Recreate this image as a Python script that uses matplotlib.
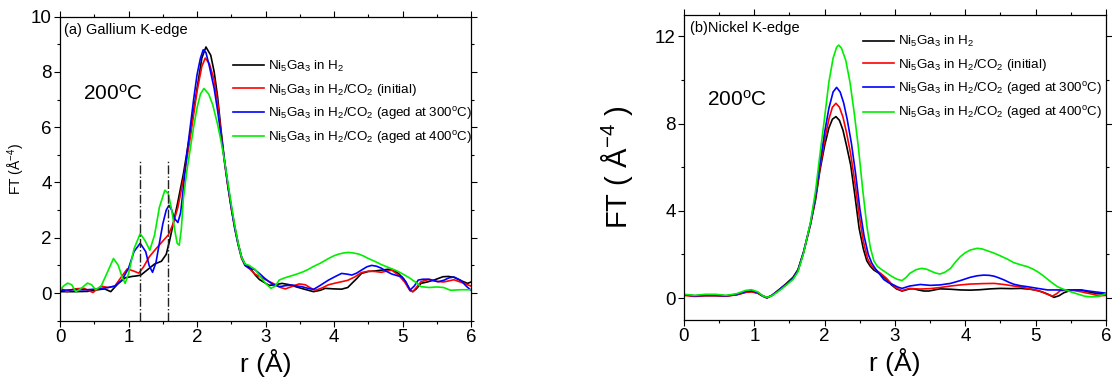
import matplotlib
matplotlib.use("Agg")
import matplotlib.pyplot as plt
import numpy as np

plt.rcParams['font.family'] = ['Liberation Sans', 'DejaVu Sans']
plt.rcParams['mathtext.default'] = 'regular'

# ---------------- data: (r [Å], FT) pairs ----------------
labels = [r'Ni$_5$Ga$_3$ in H$_2$',
          r'Ni$_5$Ga$_3$ in H$_2$/CO$_2$ (initial)',
          r'Ni$_5$Ga$_3$ in H$_2$/CO$_2$ (aged at 300$^o$C)',
          r'Ni$_5$Ga$_3$ in H$_2$/CO$_2$ (aged at 400$^o$C)']
colors = ['#000000', '#ff0000', '#0000ff', '#00ee00']

ga_black = [(0,0.05),(0.2,0.05),(0.4,0.06),(0.55,0.12),(0.65,0.15),(0.74,0.05),(0.85,0.35),(0.95,0.55),
            (1.05,0.6),(1.12,0.62),(1.18,0.65),(1.28,0.85),(1.38,1.05),(1.48,1.15),(1.55,1.4),(1.6,1.9),
            (1.66,2.6),(1.72,3.3),(1.8,4.3),(1.9,5.8),(2.0,7.4),(2.07,8.5),(2.13,8.9),(2.2,8.6),(2.25,8.0),
            (2.3,7.1),(2.35,5.9),(2.4,4.8),(2.45,3.9),(2.5,3.1),(2.55,2.4),(2.6,1.8),(2.65,1.3),(2.7,1.05),
            (2.76,0.95),(2.85,0.65),(2.91,0.49),(3.05,0.28),(3.15,0.3),(3.24,0.35),(3.35,0.3),(3.44,0.23),
            (3.55,0.15),(3.7,0.05),(3.8,0.1),(3.87,0.17),(4.0,0.15),(4.11,0.14),(4.2,0.2),(4.26,0.35),
            (4.33,0.52),(4.4,0.71),(4.5,0.78),(4.6,0.8),(4.7,0.83),(4.79,0.86),(4.87,0.82),(4.94,0.71),
            (5.02,0.5),(5.11,0.1),(5.15,0.05),(5.2,0.15),(5.27,0.35),(5.36,0.4),(5.46,0.47),(5.59,0.59),
            (5.67,0.6),(5.75,0.57),(5.85,0.45),(5.95,0.35),(6.0,0.4)]
ga_red = [(0,0.18),(0.1,0.05),(0.2,0.15),(0.35,0.17),(0.48,0.02),(0.6,0.25),(0.7,0.2),(0.8,0.25),(0.9,0.6),
          (0.98,0.87),(1.07,0.8),(1.15,0.72),(1.22,0.95),(1.3,1.3),(1.4,1.6),(1.5,1.88),(1.58,2.1),(1.65,2.5),
          (1.72,3.1),(1.8,4.1),(1.9,5.6),(2.0,7.3),(2.07,8.2),(2.12,8.5),(2.18,8.3),(2.25,7.7),(2.3,6.9),
          (2.35,5.8),(2.4,4.75),(2.45,3.85),(2.5,3.05),(2.55,2.35),(2.6,1.75),(2.65,1.25),(2.7,1.0),
          (2.76,0.89),(2.85,0.68),(2.95,0.55),(3.05,0.42),(3.15,0.3),(3.22,0.2),(3.29,0.15),(3.4,0.25),
          (3.49,0.33),(3.58,0.3),(3.66,0.18),(3.73,0.1),(3.82,0.18),(3.92,0.3),(4.02,0.36),(4.11,0.41),
          (4.2,0.46),(4.3,0.58),(4.4,0.74),(4.5,0.79),(4.6,0.78),(4.69,0.75),(4.78,0.8),(4.84,0.83),
          (4.94,0.65),(5.03,0.4),(5.11,0.08),(5.15,0.05),(5.2,0.2),(5.27,0.41),(5.39,0.5),(5.5,0.42),
          (5.6,0.4),(5.75,0.48),(5.9,0.35),(6.0,0.25)]
ga_blue = [(0,0.1),(0.2,0.12),(0.4,0.12),(0.55,0.15),(0.7,0.2),(0.8,0.25),(0.9,0.45),(1.0,0.9),(1.08,1.5),
           (1.17,1.8),(1.25,1.5),(1.3,1.0),(1.35,0.75),(1.4,1.1),(1.45,1.8),(1.5,2.5),(1.55,3.0),(1.59,3.17),
           (1.63,3.0),(1.67,2.7),(1.72,2.55),(1.76,2.9),(1.8,3.8),(1.85,5.0),(1.9,6.0),(1.95,7.0),(2.0,7.9),
           (2.05,8.5),(2.09,8.8),(2.13,8.7),(2.18,8.2),(2.25,7.4),(2.3,6.6),(2.35,5.7),(2.4,4.8),(2.45,3.9),
           (2.5,3.1),(2.55,2.35),(2.6,1.75),(2.65,1.3),(2.7,1.0),(2.76,0.9),(2.84,0.85),(2.91,0.71),
           (2.98,0.55),(3.05,0.41),(3.12,0.3),(3.2,0.23),(3.3,0.27),(3.39,0.29),(3.47,0.25),(3.53,0.23),
           (3.62,0.17),(3.7,0.13),(3.8,0.28),(3.92,0.47),(4.02,0.6),(4.11,0.71),(4.2,0.68),(4.26,0.65),
           (4.33,0.72),(4.4,0.83),(4.48,0.95),(4.55,1.0),(4.62,0.97),(4.69,0.9),(4.77,0.78),(4.84,0.69),
           (4.92,0.63),(4.99,0.59),(5.05,0.4),(5.11,0.11),(5.17,0.25),(5.23,0.47),(5.3,0.5),(5.37,0.5),
           (5.45,0.45),(5.52,0.41),(5.6,0.46),(5.68,0.55),(5.75,0.58),(5.85,0.46),(5.93,0.25),(6.0,0.1)]
ga_green = [(0,0.1),(0.05,0.25),(0.11,0.36),(0.17,0.3),(0.23,0.05),(0.3,0.15),(0.4,0.36),(0.46,0.3),
            (0.52,0.12),(0.6,0.25),(0.7,0.8),(0.78,1.25),(0.85,1.0),(0.91,0.55),(0.95,0.35),(1.0,0.7),
            (1.08,1.6),(1.17,2.15),(1.24,1.9),(1.31,1.55),(1.38,2.1),(1.45,3.1),(1.53,3.72),(1.58,3.6),
            (1.63,3.0),(1.68,2.2),(1.71,1.8),(1.74,1.73),(1.77,2.3),(1.8,3.4),(1.85,4.4),(1.9,5.2),
            (1.95,6.0),(2.0,6.7),(2.05,7.2),(2.1,7.4),(2.17,7.2),(2.23,6.8),(2.3,6.1),(2.35,5.5),(2.4,4.8),
            (2.45,4.0),(2.5,3.2),(2.55,2.45),(2.6,1.8),(2.65,1.3),(2.7,1.05),(2.76,1.0),(2.85,0.85),
            (2.92,0.6),(3.0,0.35),(3.08,0.17),(3.14,0.25),(3.2,0.47),(3.28,0.55),(3.36,0.61),(3.45,0.68),
            (3.55,0.77),(3.62,0.85),(3.69,0.95),(3.8,1.08),(3.92,1.25),(4.0,1.35),(4.07,1.41),(4.14,1.45),
            (4.21,1.47),(4.28,1.45),(4.36,1.41),(4.43,1.34),(4.5,1.25),(4.6,1.14),(4.69,1.03),(4.79,0.93),
            (4.89,0.83),(4.96,0.75),(5.03,0.65),(5.1,0.55),(5.18,0.41),(5.27,0.23),(5.39,0.2),(5.5,0.22),
            (5.6,0.2),(5.7,0.1),(5.85,0.12),(6.0,0.12)]

ni_black = [(0,0.15),(0.15,0.1),(0.3,0.12),(0.45,0.12),(0.6,0.1),(0.75,0.15),(0.88,0.27),(0.96,0.3),
            (1.05,0.22),(1.12,0.08),(1.18,0.0),(1.25,0.12),(1.35,0.38),(1.45,0.65),(1.55,0.95),(1.62,1.3),
            (1.7,2.1),(1.8,3.4),(1.87,4.5),(1.93,5.8),(2.0,7.0),(2.06,7.8),(2.11,8.2),(2.16,8.32),(2.21,8.15),
            (2.26,7.7),(2.31,7.0),(2.37,6.1),(2.43,4.7),(2.49,3.2),(2.55,2.25),(2.6,1.7),(2.65,1.45),
            (2.7,1.28),(2.79,1.1),(2.88,0.85),(2.95,0.6),(3.02,0.42),(3.1,0.32),(3.21,0.42),(3.27,0.42),
            (3.33,0.37),(3.41,0.32),(3.48,0.32),(3.56,0.37),(3.64,0.42),(3.8,0.4),(3.93,0.37),(4.07,0.36),
            (4.21,0.38),(4.36,0.42),(4.5,0.44),(4.65,0.43),(4.79,0.44),(4.93,0.4),(5.03,0.34),(5.1,0.27),
            (5.17,0.18),(5.26,0.03),(5.33,0.1),(5.4,0.24),(5.47,0.32),(5.54,0.37),(5.64,0.37),(5.75,0.28),
            (5.88,0.2),(6.0,0.18)]
ni_red = [(0,0.12),(0.15,0.07),(0.3,0.1),(0.45,0.1),(0.6,0.08),(0.75,0.15),(0.88,0.26),(0.96,0.28),
          (1.05,0.22),(1.12,0.1),(1.18,0.02),(1.25,0.12),(1.35,0.36),(1.45,0.62),(1.55,0.9),(1.62,1.25),
          (1.7,2.1),(1.8,3.4),(1.87,4.6),(1.93,5.9),(2.0,7.25),(2.06,8.2),(2.11,8.75),(2.16,8.93),(2.21,8.75),
          (2.26,8.3),(2.31,7.6),(2.37,6.6),(2.43,5.3),(2.49,3.8),(2.55,2.6),(2.61,1.8),(2.66,1.5),(2.72,1.3),
          (2.8,1.12),(2.88,0.9),(2.95,0.65),(3.02,0.45),(3.1,0.34),(3.21,0.44),(3.3,0.42),(3.36,0.41),
          (3.5,0.43),(3.64,0.48),(3.79,0.55),(3.93,0.6),(4.07,0.64),(4.25,0.66),(4.41,0.67),(4.55,0.62),
          (4.69,0.55),(4.8,0.5),(4.88,0.44),(5.0,0.36),(5.08,0.29),(5.16,0.18),(5.24,0.09),(5.3,0.2),
          (5.35,0.34),(5.49,0.37),(5.64,0.29),(5.8,0.18),(5.9,0.1),(6.0,0.12)]
ni_blue = [(0,0.15),(0.15,0.1),(0.3,0.12),(0.45,0.12),(0.6,0.1),(0.75,0.17),(0.88,0.3),(0.96,0.33),
           (1.05,0.25),(1.12,0.1),(1.18,0.02),(1.25,0.12),(1.35,0.36),(1.45,0.62),(1.55,0.9),(1.62,1.25),
           (1.7,2.1),(1.8,3.45),(1.87,4.7),(1.93,6.1),(2.0,7.6),(2.06,8.7),(2.12,9.45),(2.17,9.66),(2.22,9.45),
           (2.27,8.95),(2.32,8.2),(2.38,7.1),(2.44,5.7),(2.5,4.1),(2.56,2.85),(2.62,2.0),(2.67,1.6),
           (2.72,1.35),(2.78,1.1),(2.84,0.85),(2.91,0.7),(2.98,0.6),(3.04,0.5),(3.1,0.44),(3.21,0.55),
           (3.36,0.62),(3.5,0.58),(3.64,0.6),(3.79,0.67),(3.93,0.8),(4.07,0.95),(4.17,1.02),(4.26,1.05),
           (4.34,1.04),(4.41,1.0),(4.48,0.92),(4.55,0.83),(4.62,0.72),(4.69,0.63),(4.79,0.56),(4.88,0.52),
           (5.03,0.44),(5.17,0.37),(5.35,0.37),(5.5,0.37),(5.64,0.37),(5.8,0.3),(6.0,0.22)]
ni_green = [(0,0.17),(0.15,0.12),(0.3,0.17),(0.45,0.17),(0.6,0.12),(0.75,0.2),(0.88,0.35),(0.96,0.38),
            (1.05,0.28),(1.12,0.1),(1.18,0.03),(1.25,0.1),(1.35,0.32),(1.45,0.58),(1.55,0.85),(1.62,1.2),
            (1.7,2.05),(1.8,3.5),(1.87,4.9),(1.93,6.5),(2.0,8.3),(2.06,9.9),(2.12,11.0),(2.17,11.5),(2.2,11.6),
            (2.24,11.45),(2.3,10.9),(2.36,9.9),(2.42,8.5),(2.48,6.9),(2.54,5.0),(2.6,3.3),(2.65,2.3),
            (2.7,1.7),(2.75,1.45),(2.79,1.35),(2.88,1.15),(2.95,1.0),(3.03,0.86),(3.1,0.8),(3.16,0.95),
            (3.21,1.13),(3.3,1.3),(3.38,1.36),(3.45,1.32),(3.5,1.25),(3.57,1.15),(3.64,1.1),(3.71,1.18),
            (3.79,1.36),(3.86,1.65),(3.93,1.9),(4.0,2.08),(4.07,2.2),(4.17,2.28),(4.24,2.25),(4.31,2.17),
            (4.4,2.07),(4.5,1.93),(4.6,1.78),(4.69,1.62),(4.79,1.52),(4.88,1.44),(4.96,1.33),(5.03,1.2),
            (5.1,1.04),(5.17,0.86),(5.24,0.68),(5.31,0.52),(5.38,0.42),(5.45,0.34),(5.52,0.26),(5.6,0.18),
            (5.7,0.08),(5.8,0.05),(5.9,0.08),(6.0,0.2)]

ga_marker_r = [1.17, 1.57]   # dash-dot guide lines
ga_marker_top = 4.8

# ---------------- figure ----------------
fig = plt.figure(figsize=(11.12, 3.83), dpi=100)
axL = fig.add_axes([0.054, 0.1627, 0.3696, 0.794])
axR = fig.add_axes([0.6151, 0.165, 0.3795, 0.797])

def style(ax, ymaj, ymin):
    ax.set_xlim(0, 6)
    ax.set_xticks(range(0, 7))
    ax.set_xticks(np.arange(0.5, 6, 1.0), minor=True)
    ax.set_yticks(ymaj)
    ax.set_yticks(ymin, minor=True)
    ax.tick_params(which='both', direction='out', top=True, right=True,
                   labeltop=False, labelright=False, labelsize=13.5, width=0.8, pad=2)
    ax.tick_params(which='major', length=4)
    ax.tick_params(which='minor', length=2.5)
    for s in ax.spines.values():
        s.set_linewidth(0.9)

for ax, series in ((axL, [ga_black, ga_red, ga_blue, ga_green]),
                   (axR, [ni_black, ni_red, ni_blue, ni_green])):
    for data, c, lab in zip(series, colors, labels):
        d = np.array(data)
        ax.plot(d[:, 0], d[:, 1], color=c, lw=1.2, label=lab)

leg_kw = dict(loc='upper left', frameon=False, fontsize=9.6, handlelength=2.3,
              handletextpad=0.35, labelspacing=0.55, borderpad=0, borderaxespad=0)

# left panel
axL.set_ylim(-1, 10)
style(axL, [0, 2, 4, 6, 8, 10], [-1, 1, 3, 5, 7, 9])
for r in ga_marker_r:
    axL.plot([r, r], [-1, ga_marker_top], color='#222222', lw=1.0, ls='-.')
axL.text(0.01, 0.955, '(a) Gallium K-edge', transform=axL.transAxes, fontsize=10.5,
         va='center', ha='left')
axL.text(0.055, 0.745, '200$^o$C', transform=axL.transAxes, fontsize=15, va='center', ha='left')
axL.set_xlabel('r (Å)', fontsize=19, labelpad=2)
axL.set_ylabel('FT (Å$^{-4}$)', fontsize=10, labelpad=3)
axL.legend(bbox_to_anchor=(0.421, 0.86), **leg_kw)

# right panel
axR.set_ylim(-1, 13)
style(axR, [0, 4, 8, 12], [2, 6, 10])
axR.text(0.015, 0.955, '(b)Nickel K-edge', transform=axR.transAxes, fontsize=10.5,
         va='center', ha='left')
axR.text(0.055, 0.72, '200$^o$C', transform=axR.transAxes, fontsize=15, va='center', ha='left')
axR.set_xlabel('r (Å)', fontsize=19, labelpad=2)
axR.set_ylabel('FT ( Å$^{-4}$ )', fontsize=21, labelpad=14)
axR.legend(bbox_to_anchor=(0.424, 0.935), **leg_kw)

fig.savefig('out.png', dpi=100)
